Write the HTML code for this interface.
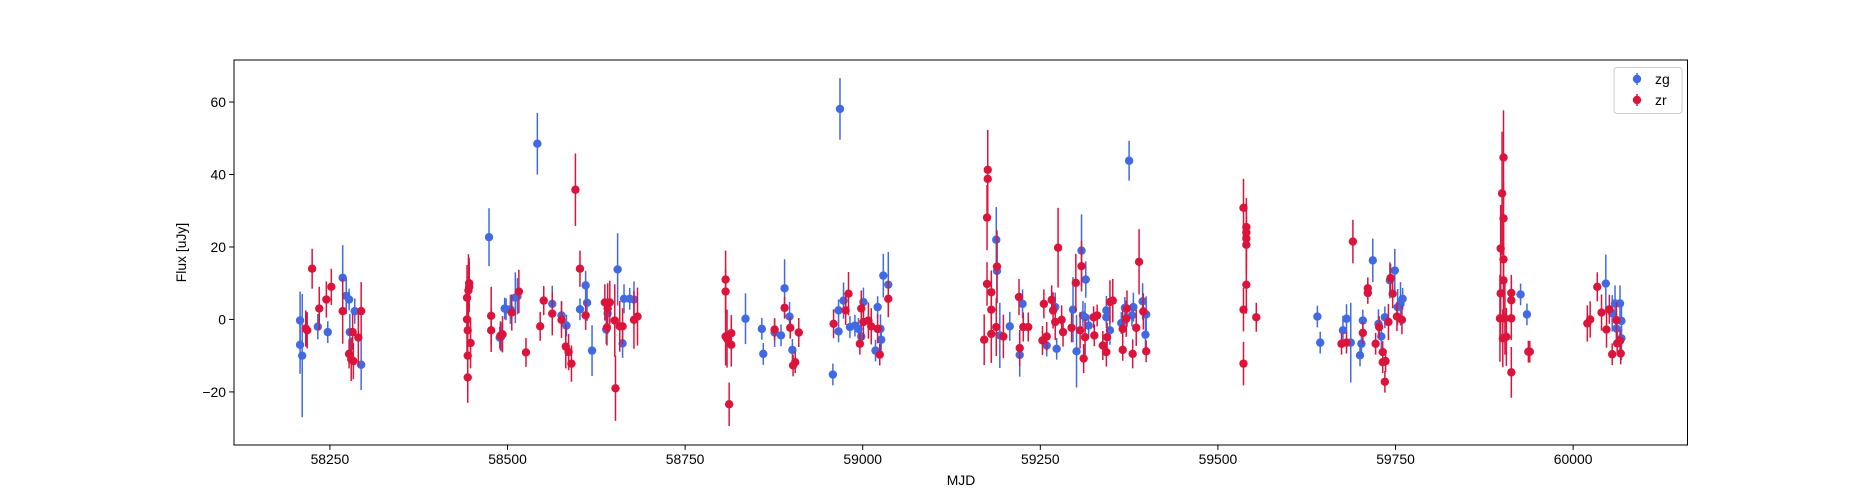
<!DOCTYPE html>
<html><head><meta charset="utf-8">
<style>
html,body{margin:0;padding:0;background:#fff;}
svg{display:block;font-family:"Liberation Sans","DejaVu Sans",sans-serif;}
</style></head>
<body>
<svg id="chart" width="1875" height="500" viewBox="0 0 1875 500" xmlns="http://www.w3.org/2000/svg">
<rect x="0" y="0" width="1875" height="500" fill="#fff"/>
<g id="axes"></g>
<g id="marks-zg"></g>
<g id="marks-zr"></g>
<rect x="234" y="60" width="1453.5" height="385" fill="none" stroke="#000" stroke-width="1"/>
<g>
<rect x="1614" y="67.5" width="68" height="46" rx="3" fill="#fff" fill-opacity="0.8" stroke="#ccc" stroke-width="1"/>
<g>
<line x1="1637" y1="73" x2="1637" y2="85" stroke="#4169e1" stroke-width="1.5"/>
<circle cx="1637" cy="79" r="4.2" fill="#4169e1"/>
<text x="1655" y="84" font-size="13.9" fill="#000">zg</text>
</g>
<g>
<line x1="1637" y1="94" x2="1637" y2="106" stroke="#dc143c" stroke-width="1.5"/>
<circle cx="1637" cy="100" r="4.2" fill="#dc143c"/>
<text x="1655" y="105" font-size="13.9" fill="#000">zr</text>
</g>
</g>
<text x="961" y="485" font-size="13.9" text-anchor="middle" fill="#000">MJD</text>
<text x="0" y="0" font-size="13.9" text-anchor="middle" fill="#000" transform="translate(186,252.5) rotate(-90)">Flux [uJy]</text>
</svg>
<script>
const xTicks = [58250, 58500, 58750, 59000, 59250, 59500, 59750, 60000];
const yTicks = [-20, 0, 20, 40, 60];
const gMjd = [58208,58208,58211,58233,58247,58268,58273,58277,58278,58285,58294,
58474,58489,58491,58496,58498,58504,58511,58514,58542,58563,58576,58583,58602,58610,58612,58619,58639,58641,58655,58662,58664,58672,58678,
58835,58858,58860,58876,58885,58890,58897,58901,58958,58966,58966,58968,58973,58982,58989,58994,58998,59001,59021,59025,59026,59018,59029,59036,
59188,59189,59193,59207,59225,59221,59259,59271,59273,59296,59301,59308,59314,59313,59310,59318,59343,59343,59348,59364,59369,59375,59381,59379,59394,59399,59398,
59640,59644,59676,59681,59687,59702,59700,59704,59718,59726,59730,59735,59742,59749,59753,59757,59760,
59926,59935,
60046,60055,60059,60066,60061,60068,60068];
const gFlux = [-0.3,-7,-10,-2,-3.5,11.5,6.5,5.5,-3.5,2.3,-12.5,
22.7,-5,-4.8,3,2.8,2.8,6,6.4,48.5,4.3,1.1,-1.7,2.8,9.4,4.6,-8.6,-2.8,1.7,13.8,-6.6,5.7,5.7,5.5,
0.2,-2.6,-9.5,-3.6,-4.4,8.6,0.8,-8.4,-15.2,2.5,-3.3,58.1,5.2,-2.1,-1.7,-2.6,-4.7,4.8,3.4,-2.6,-5.6,-8.6,12.1,9.6,
22,13.4,-4.4,-1.9,4.3,-9.8,-7.2,3.4,-8.1,2.7,-8.8,19,11,0.6,1.1,-1.7,2.5,0.6,-3,-1,3.2,43.8,3.4,1.1,5,1.4,-4.2,
0.8,-6.4,-3,0.2,-6.4,-6.7,-9.9,-0.3,16.3,-1.2,-4.7,0.6,10.8,13.5,3.4,4.3,5.7,
6.9,1.4,
9.9,1.7,4.4,4.4,-2.5,-0.4,-5.2];
const gErr = [8,8,17,3.5,3,9,5,3,5,3.5,7,
8,3,4,3,3,4,7,5,8.5,5,4,3,3,4,5,7,4,4,10,4,4,3,5,
7,3,3,4,3,8,4,3,3,3,3,8.5,5,3,3,3,3,4,3,4,3,3,6,9,
9,9,9,4,4,6,3,4,3,9,10,10,5,4,4,3,4,3,4,3,3,5.5,4,3,5,5,5,
3,3,4,4,11,4,3,3,6,4,4,3,5,6,5,6,3,
3,3,
8,5,5,5,4,5,6];
const rMjd = [58216,58218,58225,58235,58245,58252,58268,58277,58280,58283,58290,58294,58282,
58443,58443,58444,58444,58444,58445,58446,58446,58448,58477,58477,58490,58493,58506,58516,58526,58546,58551,58563,58576,58582,58586,58590,58595.6,58602,58610,58637,58644,58641,58640,58651,58652,58658,58662,58678,58683,
58807,58807,58807,58809,58812,58815,58815,58876,58890,58898,58902,58905,58910,58959,58976,58980,58996,58998,59001,59008,59012,59021,59024,59036,
59176,59176,59175,59189,59175,59181,59181,59171,59181,59188,59198,59220,59221,59226,59233,59255,59266,59259,59253,59268,59271,59275,59280,59282,59294,59300,59308,59311,59306,59313,59325,59330,59326,59338,59343,59344,59348,59352,59366,59366,59371,59372,59380,59385,59389,59395,59399,
59536,59540,59540,59540,59540,59540,59536,59554,59536,
59690,59674,59681,59711,59711,59704,59722,59727,59732,59732,59736,59735,59743,59746,59740,59752,59759,
59902,59900,59902,59898,59902,59898,59902,59913,59913,59897,59904,59913,59901,59906,59913,59937,59939,
60020,60024,60034,60040,60047,60051,60061,60055,60067,60062,60066];
const rFlux = [-2.5,-3,14,3,5.5,9,2.3,-9.5,-11,-11.5,-5,2.3,-3.5,
6,0,-3,-10,-16,8,9,10,-6.5,1,-3,-4.5,-4.1,1.9,7.7,-9.1,-1.9,5.2,1.6,-0.1,-7.5,-9,-12.2,35.8,14,1.1,4.7,4.7,3,-2.2,-0.3,-19,-1.9,-1.9,-0.1,0.8,
11,7.7,-4.7,-5.3,-23.4,-3.8,-7,-2.8,3.2,-2.3,-12.7,-11.8,-3.6,-1.2,2.5,7.1,-6.7,3,-0.7,-0.3,-1.9,-2.6,-9.7,5.7,
41.3,38.8,28.1,14.6,9.8,7.5,2.7,-5.6,-4,-2.1,-4.7,6.2,-7.9,-2.1,-2.1,4.3,5.4,-4.7,-5.8,2.5,-0.7,19.8,-0.1,-3.5,-2.3,10.1,14.7,-10.8,-3,-4.9,0.6,1.1,-4.4,-7.2,-9,-4.9,4.8,5.2,-2.6,-8.4,0.2,3,-9.5,-2.3,15.9,2.2,-8.8,
30.8,25.5,24,22.3,20.6,9.6,2.7,0.6,-12.2,
21.5,-6.7,-6.4,8.6,7.3,-3.7,-6.7,-2.1,-9,-11.8,-11.5,-17.2,11.4,7.1,-0.7,0.8,-0.1,
44.7,34.8,27.9,19.6,16.6,7.2,10.8,7.3,5.3,0.3,0.3,0.3,-5.2,-4.8,-14.6,-8.9,-8.9,
-1.1,0,9,1.9,-2.8,2.8,-0.2,-9.6,-9.4,-6.6,-5.9];
const rErr = [5,5,5.5,6,5,5,9,4,6,5,8,8,5,
9,10,10,10,7,10,7,7,7,8,6,4,5,5,6,4,4,4,6,5,6,5,5,10,5,4,5,6,7,5,10,9,7,5,8,8,
8,6,8,8,6,5,6,3,3,3,3,3,4,4,4,6,3,5,5,5,5,4,3,5,
11,11,9,10,6,6,8,7,8,8,6,5,5,4,4,4,4,4,4,5,5,11,4,4,4,8,7,4,5,5,3,3,3,4,4,4,6,6,5,3,5,5,4,5,9,5,3,
8,8,8,8,8,8,6,4,6,
6,3,3,3,3,3,3,3,3,3,3,3,4,4,5,4,4,
13,17,10,12,10,12,10,5,5,12,10,6,8,8,7,3,3,
5,5,4,5,5,4,5,3,3,3,3];

const PL=234, PR=1687.5, PT=60, PB=445;
const XMIN=58115, XMAX=60161, YMIN=-34.65, YMAX=71.6;
function xs(v){return PL+(v-XMIN)/(XMAX-XMIN)*(PR-PL);}
function ys(v){return PB-(v-YMIN)/(YMAX-YMIN)*(PB-PT);}
const NS="http://www.w3.org/2000/svg";
function mk(tag,attrs,parent){const e=document.createElementNS(NS,tag);for(const k in attrs)e.setAttribute(k,attrs[k]);parent.appendChild(e);return e;}
const axes=document.getElementById('axes');
xTicks.forEach(t=>{
  const g=mk('g',{},axes);
  
  
  const x=xs(t);
  mk('line',{x1:x,y1:PB,x2:x,y2:PB+4.9,stroke:'#000','stroke-width':1},g);
  const tx=mk('text',{x:x,y:PB+19,'font-size':13.9,'text-anchor':'middle',fill:'#000'},g);
  tx.textContent=t;
});
yTicks.forEach(t=>{
  const g=mk('g',{},axes);
  
  
  const y=ys(t);
  mk('line',{x1:PL-4.9,y1:y,x2:PL,y2:y,stroke:'#000','stroke-width':1},g);
  const tx=mk('text',{x:PL-8,y:y+5,'font-size':13.9,'text-anchor':'end',fill:'#000'},g);
  tx.textContent=(t<0?'\u2212'+(-t):t);
});
function drawSeries(mjd,flux,err,color,gid,nm){
  const par=document.getElementById(gid);
  for(let i=0;i<mjd.length;i++){
    const g=mk('g',{},par);
    
    
    const x=xs(mjd[i]);
    mk('line',{x1:x,y1:ys(flux[i]-err[i]),x2:x,y2:ys(flux[i]+err[i]),stroke:color,'stroke-width':1.5},g);
  }
  for(let i=0;i<mjd.length;i++){
    const c=mk('circle',{cx:xs(mjd[i]),cy:ys(flux[i]),r:4.2,fill:color},par);
    
    
  }
}
drawSeries(gMjd,gFlux,gErr,'#4169e1','marks-zg','zg');
drawSeries(rMjd,rFlux,rErr,'#dc143c','marks-zr','zr');
</script>
</body></html>
